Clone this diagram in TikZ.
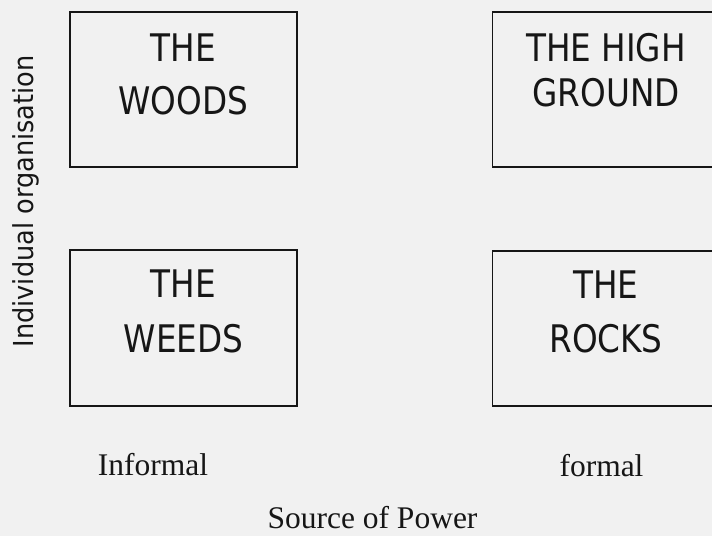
\documentclass[tikz,border=0pt]{standalone}
\usepackage{fontspec}
\setmainfont{Liberation Serif}
\newfontfamily\boxfont[FakeStretch=0.86]{DejaVu Sans}
\newfontfamily\axisfont[FakeStretch=0.93]{DejaVu Sans}
\definecolor{paper}{RGB}{241,241,241}
\definecolor{ink}{RGB}{22,22,22}
\tikzset{
  quad/.style={draw=ink, line width=1.6bp, minimum width=227bp, minimum height=155bp, inner sep=0pt},
  big/.style={anchor=base, inner sep=0pt, text=ink, font=\boxfont\fontsize{38bp}{44bp}\selectfont},
  axislabel/.style={anchor=base, inner sep=0pt, text=ink, font=\axisfont\fontsize{27.5bp}{32bp}\selectfont},
  serif/.style={anchor=base, inner sep=0pt, text=ink, font=\fontsize{31.5bp}{36bp}\selectfont}
}
\begin{document}
\begin{tikzpicture}[x=1bp, y=-1bp]
  \useasboundingbox (0,0) rectangle (712,536);
  \fill[paper] (0,0) rectangle (712,536);
  \clip (0,0) rectangle (712,536);

  % the four quadrants
  \node[quad] (woods) at (183.5,89.5) {};
  \node[quad] (high)  at (606,89.5) {};
  \node[quad, minimum height=156bp] (weeds) at (183.5,328) {};
  \node[quad, minimum height=155bp] (rocks) at (606,328.5) {};

  \node[big] (woodsA) at ([yshift=-50bp]woods.north) {THE};
  \node[big] (woodsB) at ([yshift=-103bp]woods.north) {WOODS};
  \node[big] (highA)  at ([yshift=-50bp]high.north) {THE HIGH};
  \node[big] (highB)  at ([yshift=-95bp]high.north) {GROUND};
  \node[big] (weedsA) at ([yshift=-48bp]weeds.north) {THE};
  \node[big] (weedsB) at ([yshift=-103bp]weeds.north) {WEEDS};
  \node[big] (rocksA) at ([yshift=-48bp]rocks.north) {THE};
  \node[big] (rocksB) at ([yshift=-102bp]rocks.north) {ROCKS};

  % axis labels
  \node[axislabel, rotate=90] (vert) at (33,201.5) {Individual organisation};
  \node[serif] (informal) at (153,475) {Informal};
  \node[serif] (formal)   at (601.5,476) {formal};
  \node[serif] (source)   at (372.5,528.5) {Source of Power};
\end{tikzpicture}
\end{document}
